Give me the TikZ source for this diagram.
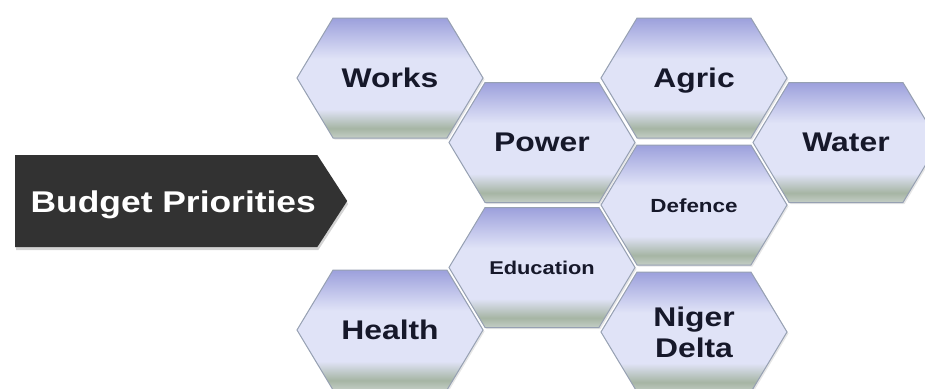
\documentclass[tikz,border=0pt]{standalone}
\usepackage{fontspec}
\setmainfont{Liberation Sans}
\newfontfamily\hexfont{Liberation Sans}[FakeStretch=1.18]
\usepackage{tikz}
\usetikzlibrary{shapes.symbols, shadows, positioning}

\definecolor{hextop}{RGB}{156,160,220}
\definecolor{hexpale}{RGB}{224,227,247}
\definecolor{hexbot}{RGB}{166,181,164}
\definecolor{hexedge}{RGB}{196,206,198}
\definecolor{hexline}{RGB}{150,160,178}
\definecolor{hextext}{RGB}{22,24,42}
\definecolor{arrowfill}{RGB}{50,50,50}

\pgfdeclareverticalshading{hexshade}{100bp}{color(0bp)=(hexedge); color(25bp)=(hexedge);
  color(29bp)=(hexbot); color(37bp)=(hexpale); color(58bp)=(hexpale);
  color(75bp)=(hextop); color(100bp)=(hextop)}

\begin{document}
\begin{tikzpicture}[x=1pt, y=-1pt,
    hexcell/.style={shape=signal, signal to=west and east, signal pointer angle=118,
      minimum width=186pt, minimum height=120pt, inner sep=0pt,
      shade, shading=hexshade, draw=hexline, line width=1pt,
      drop shadow={opacity=0.2, shadow xshift=1.5pt, shadow yshift=-1.5pt},
      text=hextext, align=center, text height=20pt, text depth=2pt,
      font=\hexfont\bfseries\fontsize{27}{31}\selectfont},
    smalltext/.style={text height=14pt, text depth=0pt}]
  \useasboundingbox (0,0) rectangle (925,388);

  % title arrow
  \node (budget) [shape=signal, signal to=east, signal pointer angle=114,
    minimum width=332pt, minimum height=92pt, inner sep=0pt, anchor=west,
    fill=arrowfill, drop shadow={opacity=0.35, shadow xshift=1pt, shadow yshift=-3pt},
    text=white, text height=22pt, text depth=0pt,
    font=\hexfont\bfseries\fontsize{30}{34}\selectfont]
    at (15,201) {\hspace*{14pt}Budget Priorities};

  % hex cells
  \node (works) [hexcell] at (390,78) {Works};
  \node (power) [hexcell] at (542,142.5) {Power};
  \node (agric) [hexcell] at (694,78) {Agric};
  \node (water) [hexcell] at (846,142.5) {Water};
  \node (defence) [hexcell, smalltext, font=\hexfont\bfseries\fontsize{19}{22}\selectfont]
    at (694,205) {Defence};
  \node (education) [hexcell, smalltext, font=\hexfont\bfseries\fontsize{18.5}{22}\selectfont]
    at (542,267.5) {Education};
  \node (health) [hexcell] at (390,330) {Health};
  \node (niger) [hexcell, text height=, text depth=] at (694,332) {Niger\\Delta};
\end{tikzpicture}
\end{document}
